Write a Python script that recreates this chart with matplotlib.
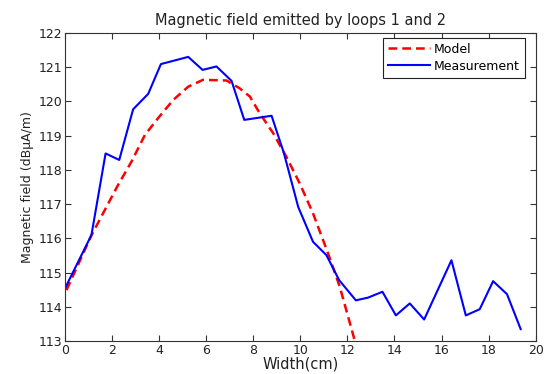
import matplotlib
matplotlib.use("Agg")
import matplotlib.pyplot as plt

plt.rcParams['font.family'] = ['DejaVu Sans']

# Measurement (width in cm, field in dBuA/m)
meas_x = [0.0, 1.13, 1.73, 2.31, 2.90, 3.54, 4.08, 5.24, 5.85, 6.44, 7.08, 7.62,
          8.78, 9.30, 9.91, 10.54, 11.11, 11.65, 12.36, 12.88, 13.49, 14.06, 14.65,
          15.26, 16.42, 17.03, 17.62, 18.19, 18.78, 19.36]
meas_y = [114.53, 116.10, 118.48, 118.29, 119.77, 120.22, 121.09, 121.30, 120.92,
          121.02, 120.60, 119.46, 119.58, 118.50, 116.92, 115.90, 115.51, 114.78,
          114.19, 114.27, 114.44, 113.75, 114.10, 113.63, 115.36, 113.75, 113.93,
          114.75, 114.37, 113.35]

# Model
model_x = [0.07, 1.13, 2.26, 2.83, 3.40, 3.96, 4.60, 5.24, 5.87, 6.87, 7.43, 7.86,
           8.28, 8.85, 9.41, 9.98, 10.54, 11.18, 11.68, 12.31, 12.60]
model_y = [114.49, 116.09, 117.56, 118.24, 119.02, 119.51, 120.04, 120.43, 120.63,
           120.61, 120.38, 120.14, 119.65, 119.07, 118.38, 117.60, 116.73, 115.56,
           114.58, 113.02, 112.40]

fig = plt.figure(figsize=(5.45, 3.74), dpi=100)
ax = fig.add_axes([0.119, 0.088, 0.864, 0.824])

ax.plot(model_x, model_y, 'r--', linewidth=1.8, dashes=(3.5, 2), label='Model')
ax.plot(meas_x, meas_y, 'b-', linewidth=1.5, label='Measurement')

ax.set_xlim(0, 20)
ax.set_ylim(113, 122)
ax.set_xticks(range(0, 21, 2))
ax.set_yticks(range(113, 123))
ax.tick_params(direction='in', top=True, right=True, labelsize=9, length=4,
               colors='#333333', labelcolor='#222222', pad=2)
for s in ax.spines.values():
    s.set_color('#333333')

ax.set_title('Magnetic field emitted by loops 1 and 2', fontsize=10.5, pad=6,
             color='#222222')
ax.set_xlabel('Width(cm)', fontsize=10.5, labelpad=0, color='#222222')
ax.set_ylabel('Magnetic field (dBµA/m)', fontsize=9, labelpad=3, color='#222222')

leg = ax.legend(loc='upper right', bbox_to_anchor=(0.977, 0.984), borderaxespad=0,
                fontsize=9, fancybox=False, framealpha=1, edgecolor='#222222',
                handlelength=3.4, handletextpad=0.3, labelspacing=0.3)
leg.get_frame().set_linewidth(0.8)

fig.savefig('out.png', dpi=100)
